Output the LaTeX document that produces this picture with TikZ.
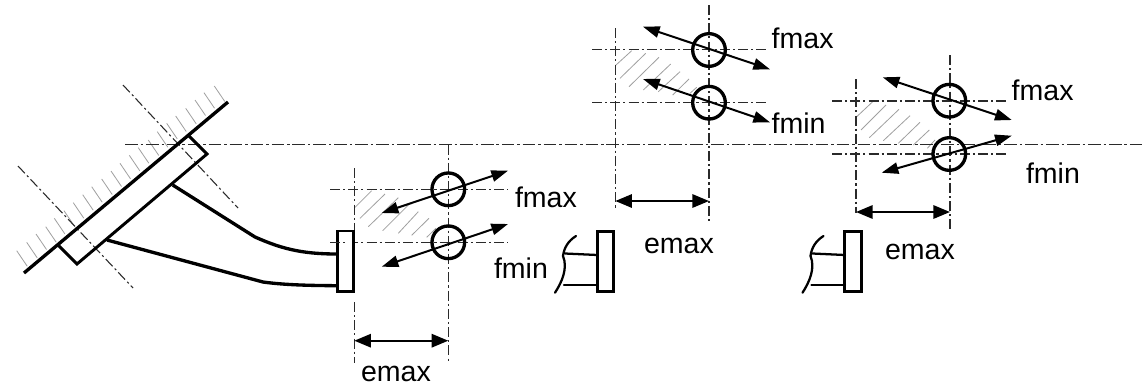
\documentclass[tikz,border=0pt]{standalone}
\usepackage{fontspec}
\setmainfont{Liberation Sans}
\usetikzlibrary{arrows.meta}
\definecolor{cl}{HTML}{2A2A2A}
\definecolor{ht}{HTML}{A0A0A0}
\tikzset{
  centre/.style={draw=cl,line width=1pt,dash pattern=on 9.5pt off 2.2pt on 1.8pt off 2.2pt},
  centrethin/.style={draw=cl,line width=0.8pt,dash pattern=on 7.5pt off 2.3pt on 1.6pt off 2.3pt},
  hatchline/.style={draw=ht,line width=0.6pt},
  heavy/.style={draw=black,line width=2.2pt,line join=miter},
  arm/.style={draw=black,line width=2.5pt},
  stub/.style={draw=black,line width=1.7pt,line cap=round},
  flange/.style={draw=black,line width=2.2pt,minimum width=12.2pt,minimum height=45.5pt,inner sep=0pt,outer sep=0pt,fill=white},
  ring/.style={draw=black,circle,line width=2.5pt,minimum size=24.5pt,inner sep=0pt,outer sep=0pt},
  force/.style={draw=black,line width=1.5pt,{Triangle[length=12.5pt,width=8.5pt]}-{Triangle[length=12.5pt,width=8.5pt]}},
  dim/.style={draw=black,line width=1.6pt,{Triangle[length=12.5pt,width=10pt]}-{Triangle[length=12.5pt,width=10pt]}},
  lab/.style={anchor=base west,inner sep=0pt,outer sep=0pt,font=\fontsize{21.4}{21.4}\selectfont}
}
\begin{document}
\begin{tikzpicture}[x=0.75pt,y=-0.75pt]
\useasboundingbox (0,0) rectangle (1145,387);
\fill[white] (0,0) rectangle (1145,387);

% hatching of the wall
\foreach \xa/\ya in {16.7/250.7,26.7/242.3,36/234,45.7/226.7,54.3/218.3,64/210.7,73.3/202.7,82.7/194.7,91.7/186.7,101.7/179,111/171,120/163.3,129.3/155.3,138.3/147.7,148.3/140,157.3/131.7,166.7/123.3,175.7/116,185.7/108.3,195/100,204/92.7,214.3/86}
  \draw[hatchline] (\xa,\ya) -- ++(10.5,15.5);

% hatching of the three fields
\foreach \xa/\ya/\xb/\yb in {355/207.3/371.7/190.7, 360/218.3/385/194, 368.3/226.7/398.3/197.7, 382.7/230.7/408.3/205, 398.3/233.3/418.3/211.7, 411.7/235.3/429/218.3, 426.7/237.3/436/228.3}
  \draw[hatchline] (\xa,\ya) -- (\xb,\yb);
\foreach \xa/\ya/\xb/\yb in {616/65/631.7/50.7, 620/78.3/645.7/53.3, 629/86.7/659/57.3, 643.3/90/670.7/64, 658.3/91.7/680/71.7, 672.7/95/689/79, 690/93.3/696.7/87.3}
  \draw[hatchline] (\xa,\ya) -- (\xb,\yb);
\foreach \xa/\ya/\xb/\yb in {856.7/116.7/872.7/101.7, 861/130/886/105, 869.3/137.7/899/109.3, 883.3/140.7/910/115.7, 898.3/143.3/920/122.3, 913.3/145/929.3/130, 927.3/148.3/935/140}
  \draw[hatchline] (\xa,\ya) -- (\xb,\yb);

% centre lines: main and mounting
\coordinate (mainL) at (125,144.5);
\coordinate (mainR) at (1145,144.5);
\draw[centre] (mainL) -- (mainR);
\coordinate (mA) at (123,85); \coordinate (mB) at (238,208);
\coordinate (mC) at (18,166); \coordinate (mD) at (133,288);
\draw[centrethin] (mA) -- (mB);
\draw[centrethin] (mC) -- (mD);

% wall and plate
\coordinate (wallA) at (24,273); \coordinate (wallB) at (228,102);
\draw[heavy,line width=2.5pt] (wallA) -- (wallB);
\coordinate (pA) at (58,245); \coordinate (pB) at (77,264);
\coordinate (pC) at (207,154); \coordinate (pD) at (189,136);
\draw[heavy] (pA) -- (pB) -- (pC) -- (pD);

% centre lines group 1
\coordinate (a1t) at (448.3,144.5); \coordinate (a1b) at (448.3,363);
\coordinate (l1t) at (354.3,168); \coordinate (l1m) at (354.3,232);
\coordinate (l1n) at (354.3,302); \coordinate (l1b) at (354.3,363);
\coordinate (h1a) at (330,189.5); \coordinate (h1b) at (508,189.5);
\coordinate (h1c) at (330,242.3); \coordinate (h1d) at (508,242.3);
\draw[centrethin] (a1t) -- (a1b);
\draw[centrethin] (l1t) -- (l1m);
\draw[centrethin] (l1n) -- (l1b);
\draw[centrethin] (h1a) -- (h1b);
\draw[centrethin] (h1c) -- (h1d);

% arm with flange
\node[flange] (fl1) at (345.3,261.3) {};
\draw[centrethin] (h1c) -- (345,242.3);
\coordinate (u0) at (172.7,185); \coordinate (u1) at (255,237);
\coordinate (l0) at (107,240); \coordinate (l1) at (263,282);
\draw[arm] (u0) -- (u1) .. controls (280,248) and (300,254) .. (fl1.west |- 0,254);
\draw[arm] (l0) -- (l1) .. controls (285,285) and (310,285.5) .. (fl1.west |- 0,285.7);

% rings and forces group 1
\node[ring] (r1a) at (448.3,189.3) {};
\node[ring] (r1b) at (448.3,242.3) {};
\coordinate (f1a) at (381.7,213); \coordinate (f1b) at (508,170.7);
\coordinate (f1c) at (381.7,266.7); \coordinate (f1d) at (508,224);
\draw[force] (f1a) -- (f1b);
\draw[force] (f1c) -- (f1d);
\coordinate (d1a) at (354.3,340.7); \coordinate (d1b) at (448.3,340.7);
\draw[dim] (d1a) -- (d1b);
\node[lab] (t1) at (515,207) {fmax};
\node[lab] (t2) at (494,278) {fmin};
\node[lab] (t3) at (361,381.7) {emax};

% group 2
\coordinate (a2t) at (709,5); \coordinate (a2b) at (709,223);
\coordinate (l2t) at (615.3,28); \coordinate (l2b) at (615.3,210);
\coordinate (h2a) at (592,49.5); \coordinate (h2b) at (768,49.5);
\coordinate (h2c) at (592,102.7); \coordinate (h2d) at (768,102.7);
\draw[centrethin] (a2t) -- (a2b);
\draw[centrethin] (l2t) -- (l2b);
\draw[centrethin] (h2a) -- (h2b);
\draw[centrethin] (h2c) -- (h2d);
\node[ring] (r2a) at (709,50) {};
\node[ring] (r2b) at (709,102.7) {};
\coordinate (f2a) at (643,26.7); \coordinate (f2b) at (770,69.3);
\coordinate (f2c) at (643,79); \coordinate (f2d) at (770,122.3);
\draw[force] (f2a) -- (f2b);
\draw[force] (f2c) -- (f2d);
\coordinate (d2a) at (615.3,201); \coordinate (d2b) at (709,201);
\draw[dim] (d2a) -- (d2b);
\node[flange] (fl2) at (605.5,261.5) {};
\coordinate (s2a) at (565,253.5); \coordinate (s2b) at (564,285);
\draw[stub] (fl2.west |- 0,255) -- (s2a);
\draw[stub] (fl2.west |- 0,285) -- (s2b);
\coordinate (b2a) at (576,236); \coordinate (b2b) at (555,292.7);
\draw[stub] (b2a) .. controls (568,241) and (564,248) .. (563,256) .. controls (568,268) and (562,282) .. (b2b);
\node[lab] (t4) at (771.7,48) {fmax};
\node[lab] (t5) at (771.7,133) {fmin};
\node[lab] (t6) at (644,253) {emax};

% group 3
\coordinate (a3t) at (950,55); \coordinate (a3b) at (950,231.7);
\coordinate (l3t) at (856,79); \coordinate (l3b) at (856,213);
\coordinate (h3a) at (832,101); \coordinate (h3b) at (1009,101);
\coordinate (h3c) at (832,154); \coordinate (h3d) at (1009,154);
\draw[centrethin] (a3t) -- (a3b);
\draw[centrethin] (l3t) -- (l3b);
\draw[centrethin] (h3a) -- (h3b);
\draw[centrethin] (h3c) -- (h3d);
\node[ring] (r3a) at (949.3,100.7) {};
\node[ring] (r3b) at (949.3,154) {};
\coordinate (f3a) at (882.7,77.3); \coordinate (f3b) at (1011.7,120);
\coordinate (f3c) at (881.7,172.7); \coordinate (f3d) at (1011.7,135.7);
\draw[force] (f3a) -- (f3b);
\draw[force] (f3c) -- (f3d);
\coordinate (d3a) at (856,212); \coordinate (d3b) at (950,212);
\draw[dim] (d3a) -- (d3b);
\node[flange] (fl3) at (853,261.5) {};
\coordinate (s3a) at (812.5,253.5); \coordinate (s3b) at (811.5,285);
\draw[stub] (fl3.west |- 0,255) -- (s3a);
\draw[stub] (fl3.west |- 0,285) -- (s3b);
\coordinate (b3a) at (823.5,236); \coordinate (b3b) at (802.5,292.7);
\draw[stub] (b3a) .. controls (815.5,241) and (811.5,248) .. (810.5,256) .. controls (815.5,268) and (809.5,282) .. (b3b);
\node[lab] (t7) at (1011.7,100) {fmax};
\node[lab] (t8) at (1026,183) {fmin};
\node[lab] (t9) at (885,259) {emax};
\end{tikzpicture}
\end{document}
